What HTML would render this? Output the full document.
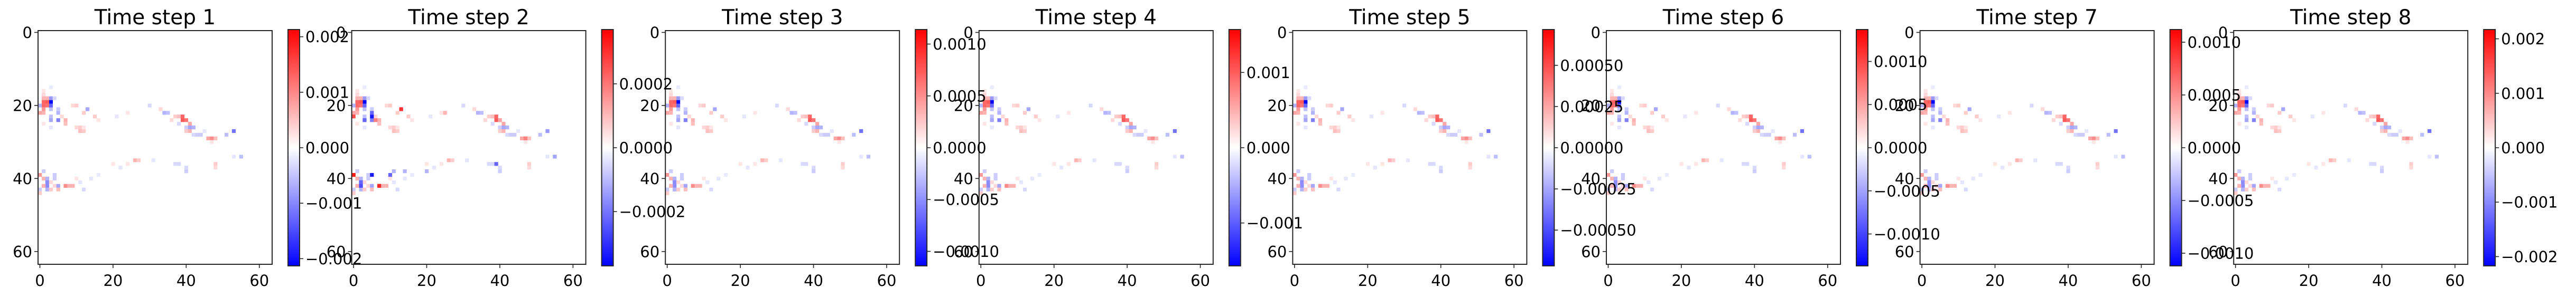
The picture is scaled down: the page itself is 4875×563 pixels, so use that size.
<!DOCTYPE html>
<html><head><meta charset="utf-8">
<style>
html,body{margin:0;padding:0;background:#fff;}
svg{display:block;font-family:"DejaVu Sans","Liberation Sans",sans-serif;}
</style></head>
<body>
<svg id="fig" width="4875" height="563" viewBox="0 0 4875 563" xmlns="http://www.w3.org/2000/svg">
<defs>
<linearGradient id="bwr" x1="0" y1="0" x2="0" y2="1">
<stop offset="0" stop-color="#ff0000"/><stop offset="0.5" stop-color="#ffffff"/><stop offset="1" stop-color="#0000ff"/>
</linearGradient>
</defs>
<g id="images"></g>
<g id="texts"></g>
</svg>
<script>
// ---- data ----
const titles = ["Time step 1","Time step 2","Time step 3","Time step 4","Time step 5","Time step 6","Time step 7","Time step 8"];
const vmaxes = [0.00213, 0.00037, 0.00114, 0.00157, 0.000717, 0.00137, 0.00112, 0.00217];
const cbTickValues = [
  [0.002,0.001,0,-0.001,-0.002],
  [0.0002,0,-0.0002],
  [0.0010,0.0005,0,-0.0005,-0.0010],
  [0.001,0,-0.001],
  [0.0005,0.00025,0,-0.00025,-0.0005],
  [0.0010,0.0005,0,-0.0005,-0.0010],
  [0.0010,0.0005,0,-0.0005,-0.0010],
  [0.002,0.001,0,-0.001,-0.002]
];
const cbTickLabels = [
  ["0.002","0.001","0.000","\u22120.001","\u22120.002"],
  ["0.0002","0.0000","\u22120.0002"],
  ["0.0010","0.0005","0.0000","\u22120.0005","\u22120.0010"],
  ["0.001","0.000","\u22120.001"],
  ["0.00050","0.00025","0.00000","\u22120.00025","\u22120.00050"],
  ["0.0010","0.0005","0.0000","\u22120.0005","\u22120.0010"],
  ["0.0010","0.0005","0.0000","\u22120.0005","\u22120.0010"],
  ["0.002","0.001","0.000","\u22120.001","\u22120.002"]
];
const axisTicks = [0,20,40,60];
const axisTickLabels = ["0","20","40","60"];
// shared sparse pattern: [row, col, normalized value relative to vmax]
const pattern = [
[19,3,-1],[19,2,0.65],[19,1,0.6],[20,1,0.6],[20,2,0.55],[18,1,0.3],[18,2,0.3],[17,1,0.15],[20,0,-0.3],[21,1,0.4],
[21,3,-0.25],[22,0,0.35],[22,1,0.3],[22,5,-0.3],[23,3,-0.25],[24,3,-0.35],[24,5,-0.5],[24,7,0.3],[25,7,0.25],[18,3,-0.4],
[18,4,-0.15],[20,3,-0.6],[21,5,-0.2],[23,6,0.15],[20,9,0.15],[20,10,0.2],[21,13,-0.35],[22,12,0.2],[23,15,0.2],[24,16,0.1],
[26,10,0.15],[26,11,0.2],[27,11,0.25],[27,12,0.2],[26,12,0.1],[16,1,0.1],[15,3,-0.08],[25,1,0.1],[26,3,-0.1],
[20,30,-0.15],[21,33,0.15],[22,34,-0.3],[22,35,-0.25],[23,37,0.2],[23,38,0.25],[23,39,0.6],[24,39,0.65],[24,40,0.55],[25,41,0.35],
[25,38,-0.15],[26,40,-0.2],[26,41,-0.35],[26,42,-0.3],[27,40,0.2],[27,41,0.3],[28,42,-0.15],[28,43,-0.2],[28,44,-0.2],[27,45,-0.1],
[29,46,0.35],[29,47,0.45],[29,48,0.25],[28,51,-0.25],[27,53,-0.55],[30,47,0.1],[24,36,0.15],[23,21,-0.1],[22,24,0.1],
[34,55,-0.25],[34,53,-0.1],[35,26,0.3],[35,27,0.2],[36,24,0.1],[35,31,-0.1],[36,37,-0.15],[36,38,-0.15],[37,40,-0.15],[36,48,0.2],
[38,40,-0.2],[37,48,0.15],[36,20,0.1],[37,22,-0.1],
[39,0,0.4],[38,1,-0.2],[40,1,0.3],[40,2,-0.3],[39,4,-0.2],[40,4,-0.2],[41,2,-0.45],[42,2,-0.45],[42,1,0.3],[41,3,0.15],
[42,4,0.15],[42,5,-0.35],[42,7,0.45],[42,8,0.3],[42,9,0.3],[43,0,-0.2],[43,2,-0.3],[43,3,0.2],[43,5,0.25],[44,0,0.2],
[43,12,-0.15],[40,10,0.1],[41,11,-0.1],[40,14,-0.1],[39,16,-0.08]
];
// extra cells specific to time step 2
const pattern2 = [
[21,13,0.8],[23,5,-0.9],[22,5,-0.6],[24,6,0.5],[23,0,0.7],[24,3,-0.6],[39,0,0.9],[39,5,-0.9],[39,10,-0.6],[42,7,0.85],
[41,2,-0.6],[42,2,-0.7],[36,39,-0.6],[27,53,-0.4],[29,47,0.5],[22,25,0.3],[24,40,0.35],[34,55,-0.35],[38,11,-0.3],[38,14,-0.3],[38,20,-0.3]
];

// ---- layout ----
const NS = "http://www.w3.org/2000/svg";
const L0 = 72, PERIOD = 593.6, AX = 443, TOP = 58, CBOFF = 473, CBW = 22, CBTOP = 56, CBBOT = 504;
const N = 64, CELL = AX / N;
function mk(tag, attrs, parent){ const e=document.createElementNS(NS,tag); for(const k in attrs) e.setAttribute(k,attrs[k]); parent.appendChild(e); return e; }
function color(v, vmax){
  let t = Math.max(-1, Math.min(1, v / vmax));
  if (t >= 0){ const g=Math.round(255*(1-t)); return `rgb(255,${g},${g})`; }
  const g=Math.round(255*(1+t)); return `rgb(${g},${g},255)`;
}
const imgG = document.getElementById('images');
const txtG = document.getElementById('texts');

for (let p = 0; p < 8; p++){
  const left = L0 + PERIOD * p;
  const xs = c => left + c * CELL;
  const ys = r => TOP + r * CELL;
  const vmax = vmaxes[p];
  const g = mk('g', {}, imgG);
  
  
  const bg = mk('rect', {x:left, y:TOP, width:AX, height:AX, fill:'#fff'}, g);
  
  
  const cells = p === 1 ? pattern.concat(pattern2) : pattern;
  cells.forEach(([r,c,v]) => {
    const rc = mk('rect', {x:xs(c).toFixed(2), y:ys(r).toFixed(2), width:(CELL+0.3).toFixed(2), height:(CELL+0.3).toFixed(2), fill:color(v*vmax, vmax)}, g);
    
    
  });
  const fr = mk('rect', {x:left, y:TOP, width:AX, height:AX, fill:'none', stroke:'#262626', 'stroke-width':2}, g);
  
  
  // axis ticks
  axisTicks.forEach((t,i) => {
    const yy = ys(t + 0.5), xx = xs(t + 0.5);
    const tl = mk('line', {x1:left, x2:left-7, y1:yy, y2:yy, stroke:'#262626','stroke-width':1.6}, g);
    
    
    const bl = mk('line', {x1:xx, x2:xx, y1:TOP+AX, y2:TOP+AX+7, stroke:'#262626','stroke-width':1.6}, g);
    
    
    const ty = mk('text', {x:left-11, y:yy+10.5, 'text-anchor':'end', 'font-size':29, fill:'#000'}, txtG);
    ty.textContent = axisTickLabels[i];
    
    
    const tx = mk('text', {x:xx, y:TOP+AX+41, 'text-anchor':'middle', 'font-size':29, fill:'#000'}, txtG);
    tx.textContent = axisTickLabels[i];
    
    
  });
  // title
  const tt = mk('text', {x:left+AX/2, y:46, 'text-anchor':'middle', 'font-size':39, fill:'#000'}, txtG);
  tt.textContent = titles[p];
  
  
  // colorbar
  const cbx = left + CBOFF;
  const cb = mk('rect', {x:cbx, y:CBTOP, width:CBW, height:CBBOT-CBTOP, fill:'url(#bwr)', stroke:'#262626','stroke-width':2}, g);
  
  
  const cy = v => (CBTOP+CBBOT)/2 - v / vmax * (CBBOT-CBTOP)/2;
  cbTickValues[p].forEach((v,i) => {
    const yy = cy(v);
    const l = mk('line', {x1:cbx+CBW, x2:cbx+CBW+7, y1:yy, y2:yy, stroke:'#262626','stroke-width':1.6}, g);
    
    
    const t = mk('text', {x:cbx+CBW+11, y:yy+10.5, 'font-size':29, fill:'#000'}, txtG);
    t.textContent = cbTickLabels[p][i];
    
    
  });
}
</script>
</body></html>
